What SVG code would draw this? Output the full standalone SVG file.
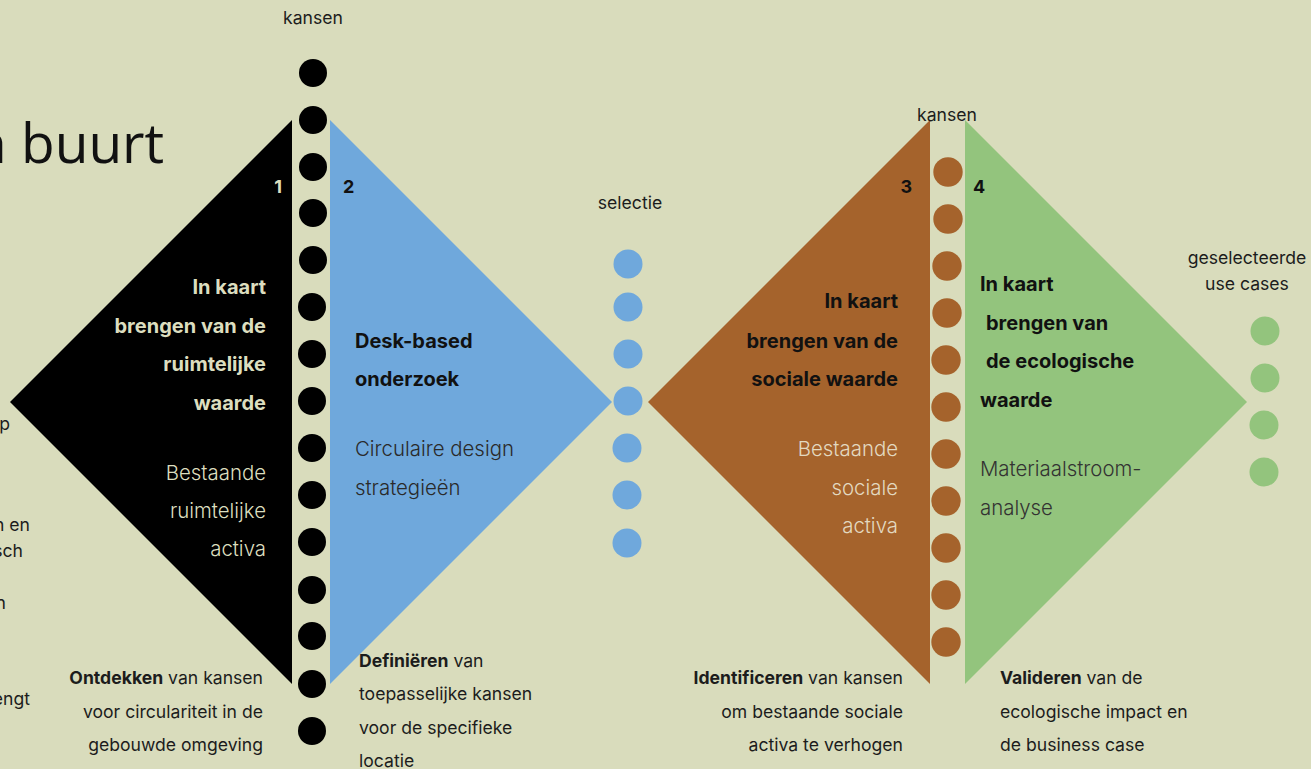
<svg xmlns="http://www.w3.org/2000/svg" width="1311" height="769" viewBox="0 0 1311 769">
  <style>
    text { font-family: Inter, "Noto Sans", "DejaVu Sans", sans-serif; }
    .lbl { font-size: 17.6px; fill: #1c1c1c; }
    .b { font-weight: 700; }
    .head { font-size: 20px; font-weight: 700; }
    .sub { font-size: 20.4px; font-weight: 300; }
    .num { font-size: 18px; font-weight: 700; }
    .end { text-anchor: end; }
    .mid { text-anchor: middle; }
    .light { fill: #dcdebf; }
    .dark { fill: #111; }
    .dot-k { fill: #000; }
    .dot-b { fill: #6fa8dc; }
    .dot-r { fill: #a5632c; }
    .dot-g { fill: #93c47d; }
  </style>

  <rect width="1311" height="769" fill="#d9dcbc"/>

  <!-- title fragment -->
  <text y="163" style="font-family:'Open Sans','Noto Sans',sans-serif;font-size:55px;font-weight:400;fill:#111"><tspan x="-27">n</tspan><tspan x="21">buurt</tspan></text>

  <!-- cut-off text at the left edge -->
  <g id="edge-text" class="lbl">
    <text x="10" y="430" class="end">p</text>
    <text x="30" y="531" class="end">n en</text>
    <text x="23" y="557" class="end">sch</text>
    <text x="6" y="609" class="end">n</text>
    <text x="30" y="705" class="end">engt</text>
  </g>

  <!-- phase 1: spatial value -->
  <g id="phase1">
    <polygon points="292,120 292,684 10,402" fill="#000"/>
    <text x="282" y="193" class="num light end">1</text>
    <g class="head light end">
      <text x="266" y="294">In kaart</text>
      <text x="266" y="333">brengen van de</text>
      <text x="266" y="371">ruimtelijke</text>
      <text x="266" y="410">waarde</text>
    </g>
    <g class="sub light end">
      <text x="266" y="480">Bestaande</text>
      <text x="266" y="518">ruimtelijke</text>
      <text x="266" y="556">activa</text>
    </g>
    <g class="lbl end">
      <text x="263" y="684"><tspan class="b">Ontdekken</tspan> van kansen</text>
      <text x="263" y="718">voor circulariteit in de</text>
      <text x="263" y="751">gebouwde omgeving</text>
    </g>
  </g>

  <!-- phase 2: desk research -->
  <g id="phase2">
    <polygon points="330,120 330,684 612,402" fill="#6fa8dc"/>
    <text x="343" y="193" class="num dark">2</text>
    <g class="head dark">
      <text x="355" y="348">Desk-based</text>
      <text x="355" y="386">onderzoek</text>
    </g>
    <g class="sub" style="fill:#2a2a2a">
      <text x="355" y="456">Circulaire design</text>
      <text x="355" y="495">strategieën</text>
    </g>
    <g class="lbl">
      <text x="359" y="667"><tspan class="b">Definiëren</tspan> van</text>
      <text x="359" y="700">toepasselijke kansen</text>
      <text x="359" y="734">voor de specifieke</text>
      <text x="359" y="767">locatie</text>
    </g>
  </g>

  <!-- phase 3: social value -->
  <g id="phase3">
    <polygon points="930,120 930,684 648,402" fill="#a5632c"/>
    <text x="912" y="193" class="num dark end">3</text>
    <g class="head dark end">
      <text x="898" y="308">In kaart</text>
      <text x="898" y="348">brengen van de</text>
      <text x="898" y="386">sociale waarde</text>
    </g>
    <g class="sub end" style="fill:#e3d9c0">
      <text x="898" y="456">Bestaande</text>
      <text x="898" y="495">sociale</text>
      <text x="898" y="533">activa</text>
    </g>
    <g class="lbl end">
      <text x="903" y="684"><tspan class="b">Identificeren</tspan>  van kansen</text>
      <text x="903" y="718">om bestaande sociale</text>
      <text x="903" y="751">activa te verhogen</text>
    </g>
  </g>

  <!-- phase 4: ecological value -->
  <g id="phase4">
    <polygon points="965,120 965,684 1247,402" fill="#93c47d"/>
    <text x="973" y="193" class="num dark">4</text>
    <g class="head dark">
      <text x="980" y="291">In kaart</text>
      <text x="986" y="330">brengen van</text>
      <text x="986" y="368">de ecologische</text>
      <text x="980" y="407">waarde</text>
    </g>
    <g class="sub" style="fill:#333">
      <text x="980" y="476">Materiaalstroom-</text>
      <text x="980" y="515">analyse</text>
    </g>
    <g class="lbl">
      <text x="1000" y="684"><tspan class="b">Valideren</tspan> van de</text>
      <text x="1000" y="718">ecologische impact en</text>
      <text x="1000" y="751">de business case</text>
    </g>
  </g>

  <!-- opportunity columns -->
  <g id="kansen-1">
    <text x="313" y="24" class="lbl mid">kansen</text>
    <g class="dot-k">
      <circle cx="313" cy="73" r="14"/>
      <circle cx="313" cy="120" r="14"/>
      <circle cx="313" cy="167" r="14"/>
      <circle cx="313" cy="213" r="14"/>
      <circle cx="313" cy="260" r="14"/>
      <circle cx="312" cy="307" r="14"/>
      <circle cx="312" cy="354" r="14"/>
      <circle cx="312" cy="401" r="14"/>
      <circle cx="312" cy="448" r="14"/>
      <circle cx="312" cy="495" r="14"/>
      <circle cx="312" cy="542" r="14"/>
      <circle cx="312" cy="590" r="14"/>
      <circle cx="312" cy="636" r="14"/>
      <circle cx="312" cy="684" r="14"/>
      <circle cx="312" cy="731" r="14"/>
    </g>
  </g>

  <g id="selectie">
    <text x="630" y="209" class="lbl mid">selectie</text>
    <g class="dot-b">
      <circle cx="628" cy="264" r="14.5"/>
      <circle cx="628" cy="307" r="14.5"/>
      <circle cx="628" cy="354" r="14.5"/>
      <circle cx="628" cy="401" r="14.5"/>
      <circle cx="627" cy="448" r="14.5"/>
      <circle cx="627" cy="495" r="14.5"/>
      <circle cx="627" cy="543" r="14.5"/>
    </g>
  </g>

  <g id="kansen-2">
    <text x="947" y="121" class="lbl mid">kansen</text>
    <g class="dot-r">
      <circle cx="948" cy="172" r="14.7"/>
      <circle cx="948" cy="219" r="14.7"/>
      <circle cx="947" cy="266" r="14.7"/>
      <circle cx="947" cy="313" r="14.7"/>
      <circle cx="946" cy="360" r="14.7"/>
      <circle cx="946" cy="407" r="14.7"/>
      <circle cx="946" cy="454" r="14.7"/>
      <circle cx="946" cy="501" r="14.7"/>
      <circle cx="946" cy="548" r="14.7"/>
      <circle cx="946" cy="595" r="14.7"/>
      <circle cx="946" cy="642" r="14.7"/>
    </g>
  </g>

  <g id="use-cases">
    <text x="1247" y="264" class="lbl mid">geselecteerde</text>
    <text x="1247" y="290" class="lbl mid">use cases</text>
    <g class="dot-g">
      <circle cx="1265" cy="331" r="14.5"/>
      <circle cx="1265" cy="378" r="14.5"/>
      <circle cx="1264" cy="425" r="14.5"/>
      <circle cx="1264" cy="472" r="14.5"/>
    </g>
  </g>
</svg>
